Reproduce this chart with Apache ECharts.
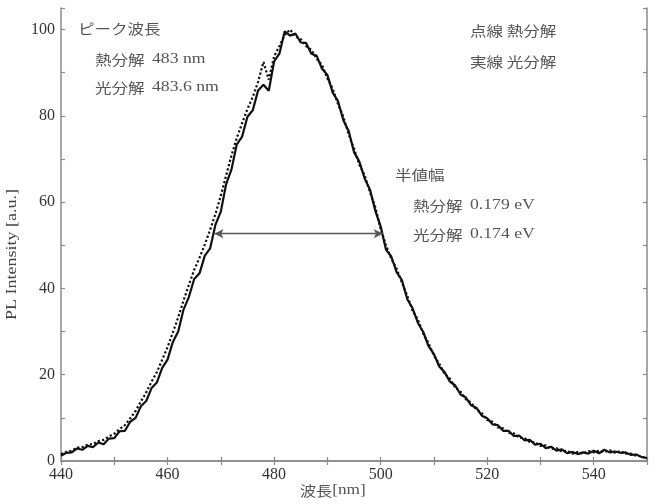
<!DOCTYPE html>
<html>
<head>
<meta charset="utf-8">
<script src="https://cdn.jsdelivr.net/npm/echarts@6/dist/echarts.min.js"></script>
<style>
html,body{margin:0;padding:0;background:#fff;}
#chart{width:657px;height:504px;}
</style>
</head>
<body>
<div id="chart"></div>
<script>
// wavelength [nm]
const wavelength = [440,441,442,443,444,445,446,447,448,449,450,451,452,453,454,455,456,457,458,459,
  460,461,462,463,464,465,466,467,468,469,470,471,472,473,474,475,476,477,478,479,
  480,481,482,483,484,485,486,487,488,489,490,491,492,493,494,495,496,497,498,499,
  500,501,502,503,504,505,506,507,508,509,510,511,512,513,514,515,516,517,518,519,
  520,521,522,523,524,525,526,527,528,529,530,531,532,533,534,535,536,537,538,539,
  540,541,542,543,544,545,546,547,548,549,550];
// 熱分解 (dotted)
const thermal = [1.6,2.1,2.4,3.1,3.2,3.8,3.9,4.6,4.9,5.7,6.3,7.4,8.3,9.9,11.6,13.8,15.9,18.4,20.6,23.5,
  26.4,29.8,33.3,37.2,40.8,44.3,47.1,50.2,53.6,57.3,61.5,66.2,70.8,74.9,78.3,81.6,84.4,87.9,92.5,88.4,
  93.8,96.2,98.8,100.0,98.4,97.8,96.2,95.3,93.2,91.8,88.7,86.3,82.7,79.8,75.7,72.4,68.7,66.2,62.3,58.8,
  53.8,50.0,46.9,44.6,41.3,38.3,34.8,32.8,29.5,27.3,24.4,22.6,20.2,19.1,17.0,16.1,14.3,13.5,11.9,11.1,
  9.5,9.1,7.8,7.6,6.5,6.4,5.4,5.3,4.4,4.4,3.5,3.6,2.8,3.0,2.2,2.4,1.7,2.1,1.7,2.3,
  2.0,2.4,2.1,2.5,1.9,2.3,1.7,1.7,1.2,1.1,0.5];
// 光分解 (solid)
const photo = [1.2,1.9,2.0,2.9,2.6,3.5,3.2,4.3,3.9,5.2,5.3,6.9,7.0,9.1,10.0,12.7,13.9,16.9,18.2,21.6,
  23.5,27.6,30.0,35.1,38.0,42.2,43.5,47.6,49.3,54.8,57.8,64.2,67.6,73.4,75.2,79.8,81.3,85.9,87.2,85.8,
  92.6,94.4,99.6,98.6,99.1,97.0,96.9,94.4,93.9,90.9,89.5,85.4,83.4,79.0,76.5,71.6,69.4,65.5,62.9,58.0,
  54.4,49.0,47.4,43.8,41.9,37.5,35.4,32.0,29.9,26.6,24.8,21.9,20.6,18.4,17.5,15.4,14.7,12.9,12.3,10.5,
  9.9,8.5,8.3,7.0,7.0,5.8,5.9,4.8,4.9,3.8,4.0,3.0,3.3,2.4,2.7,1.8,2.1,1.6,2.0,1.7,
  2.4,1.8,2.6,2.0,2.2,1.9,2.0,1.4,1.5,0.9,0.7];
const xTicks = [440,460,480,500,520,540];
const yTicks = [0,20,40,60,80,100];
// FWHM arrow ends [nm] and level
const fwhmLeft = 468.8, fwhmRight = 500.4, fwhmLevel = 52.7;

const thermalData = wavelength.map((w,i)=>[w,thermal[i]]);
const photoData = wavelength.map((w,i)=>[w,photo[i]]);

const axisColor = '#8a8a8a';
const serif = '"Liberation Serif", "DejaVu Serif", serif';
const jp = '"Noto Sans CJK JP", sans-serif';
const txtColor = '#555';

function baseAxis(extra){
  return Object.assign({
    type:'value',
    axisLine:{show:true,lineStyle:{color:axisColor,width:1.5}},
    axisTick:{show:true,inside:true,length:4,lineStyle:{color:axisColor,width:1.2}},
    minorTick:{show:true,splitNumber:2,length:4,lineStyle:{color:axisColor,width:1.2}},
    splitLine:{show:false},
    minorSplitLine:{show:false}
  }, extra);
}

const chart = echarts.init(document.getElementById('chart'));
const rich = {
  j:{fontFamily:jp,fontSize:14,color:txtColor},
  n:{fontFamily:serif,fontSize:15,color:txtColor}
};
function label(x,y,text){
  return {type:'text',left:x,top:y,scaleX:1.18,
    style:{text:text,rich:rich,fill:txtColor,font:'14px '+jp,verticalAlign:'middle'}};
}
chart.setOption({
  animation:false,
  backgroundColor:'#fff',
  grid:{left:61,right:10,top:8,bottom:43,containLabel:false},
  xAxis:[
    baseAxis({min:440,max:550,interval:20,position:'bottom',
      axisLabel:{show:true,margin:6,fontFamily:serif,fontSize:16,color:'#333',
        formatter:v=>xTicks.includes(v)?String(v):''}}),
    baseAxis({min:440,max:550,interval:20,position:'top',axisLabel:{show:false}})
  ],
  yAxis:[
    baseAxis({min:0,max:105,interval:20,position:'left',
      axisLabel:{show:true,margin:6,fontFamily:serif,fontSize:16,color:'#333',
        formatter:v=>yTicks.includes(v)?String(v):''}}),
    baseAxis({min:0,max:105,interval:20,position:'right',axisLabel:{show:false}})
  ],
  series:[
    {name:'熱分解',type:'line',data:thermalData,showSymbol:false,symbol:'none',
      lineStyle:{color:'#111',width:2.2,type:'dotted'},z:2},
    {name:'光分解',type:'line',data:photoData,showSymbol:false,symbol:'none',
      lineStyle:{color:'#111',width:2.2,type:'solid'},z:3,
      markLine:{silent:true,symbol:['arrow','arrow'],symbolSize:[7,9],
        label:{show:false},
        lineStyle:{color:'#555',width:1.3,type:'solid'},
        itemStyle:{color:'#111'},
        data:[[{coord:[fwhmLeft,fwhmLevel],itemStyle:{color:'#111'}},{coord:[fwhmRight,fwhmLevel],itemStyle:{color:'#111'}}]]}}
  ],
  graphic:[
    label(78,22,'{j|ピーク波長}'),
    label(95,52,'{j|熱分解}  {n|483 nm}'),
    label(95,80,'{j|光分解}  {n|483.6 nm}'),
    label(470,24,'{j|点線 熱分解}'),
    label(470,55,'{j|実線 光分解}'),
    label(395,168,'{j|半値幅}'),
    label(413,198,'{j|熱分解}  {n|0.179 eV}'),
    label(413,227,'{j|光分解}  {n|0.174 eV}'),
    {type:'text',left:300,top:483,scaleX:1.15,
      style:{text:'{j|波長}{n|[nm]}',rich:rich,font:'14px '+jp,fill:txtColor}},
    {type:'text',x:12,y:320,rotation:Math.PI/2,scaleX:1.2,
      style:{text:'PL Intensity [a.u.]',font:'15px '+serif,fill:'#444',align:'left',verticalAlign:'middle'}}
  ]
});
</script>
</body>
</html>
